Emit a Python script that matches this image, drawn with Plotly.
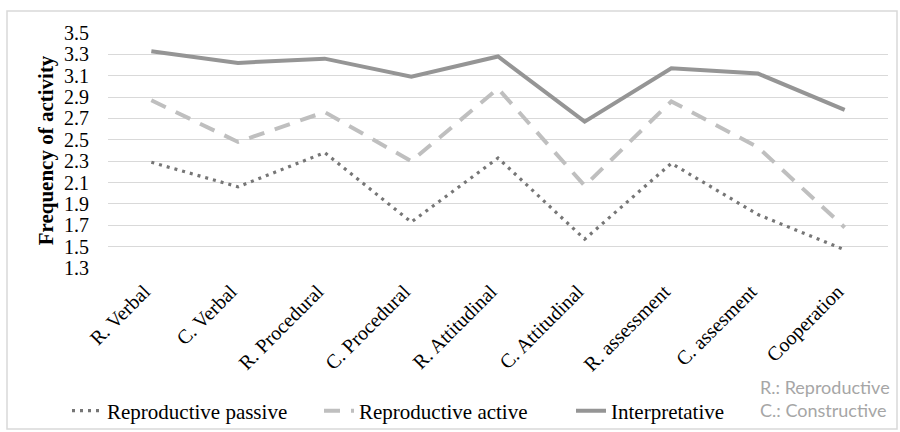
import plotly.graph_objects as go

# Activity categories (R. = reproductive, C. = constructive)
categories = [
    "R. Verbal", "C. Verbal", "R. Procedural", "C. Procedural",
    "R. Attitudinal", "C. Attitudinal", "R. assessment", "C. assesment",
    "Cooperation",
]

# Mean frequency of activity per category
reproductive_passive = [2.29, 2.06, 2.38, 1.73, 2.33, 1.57, 2.28, 1.80, 1.47]
reproductive_active = [2.87, 2.48, 2.76, 2.30, 2.98, 2.07, 2.86, 2.43, 1.68]
interpretative = [3.33, 3.22, 3.26, 3.09, 3.28, 2.67, 3.17, 3.12, 2.78]

y_ticks = [1.3, 1.5, 1.7, 1.9, 2.1, 2.3, 2.5, 2.7, 2.9, 3.1, 3.3, 3.5]

serif = "Liberation Serif, Times New Roman, serif"

fig = go.Figure()
fig.add_trace(go.Scatter(
    x=categories, y=reproductive_passive, name="Reproductive passive",
    mode="lines", line=dict(color="#767676", width=3.2, dash="3px,5px"),
))
fig.add_trace(go.Scatter(
    x=categories, y=reproductive_active, name="Reproductive active",
    mode="lines", line=dict(color="#bfbfbf", width=4, dash="16px,11px"),
))
fig.add_trace(go.Scatter(
    x=categories, y=interpretative, name="Interpretative",
    mode="lines", line=dict(color="#959595", width=4),
))

fig.update_layout(
    width=900, height=432,
    margin=dict(l=108, r=12, t=33, b=164, autoexpand=False),
    paper_bgcolor="white", plot_bgcolor="white",
    font=dict(family=serif, size=20, color="#000000"),
    showlegend=True,
    legend=dict(
        orientation="h", xref="container", yref="container",
        x=67 / 900, xanchor="left", y=1 - 411 / 432, yanchor="middle",
        font=dict(family=serif, size=21, color="#000000"),
        entrywidth=207, entrywidthmode="pixels",
        bgcolor="rgba(0,0,0,0)",
    ),
    xaxis=dict(
        type="category", categoryorder="array", categoryarray=categories,
        range=[-0.5, len(categories) - 0.5], automargin=False,
        tickvals=categories,
        # padding keeps the slanted labels' ends just below each category
        ticktext=[c + "\u00a0\u00a0" for c in categories],
        tickangle=-45, tickfont=dict(family=serif, size=20),
        showgrid=False, showline=False, zeroline=False,
        ticks="", ticklabelstandoff=0,
    ),
    yaxis=dict(
        range=[1.3, 3.5], tickvals=y_ticks, ticktext=[f"{v:.1f}" for v in y_ticks],
        tickfont=dict(family=serif, size=20), automargin=False,
        showgrid=True, gridcolor="#d9d9d9", gridwidth=1,
        zeroline=False, showline=False, ticks="", ticklabelstandoff=18,
        title=dict(text="<b>Frequency of activity</b>",
                   font=dict(family=serif, size=21), standoff=4),
    ),
    shapes=[
        # outer chart border
        dict(type="rect", xref="paper", yref="paper",
             x0=(7 - 108) / 780, x1=(897 - 108) / 780,
             y0=(268 - 429) / 235, y1=(268 - 11) / 235,
             line=dict(color="#d9d9d9", width=1.5), layer="below"),
    ],
    annotations=[
        dict(text="R.: Reproductive", xref="paper", yref="paper",
             x=(758 - 108) / 780, y=(268 - 387) / 235, xanchor="left", yanchor="middle",
             showarrow=False, font=dict(family="Lato, sans-serif", size=18, color="#a6a6a6")),
        dict(text="C.: Constructive", xref="paper", yref="paper",
             x=(758 - 108) / 780, y=(268 - 410) / 235, xanchor="left", yanchor="middle",
             showarrow=False, font=dict(family="Lato, sans-serif", size=18, color="#a6a6a6")),
    ],
)

fig.write_html("out.html")
